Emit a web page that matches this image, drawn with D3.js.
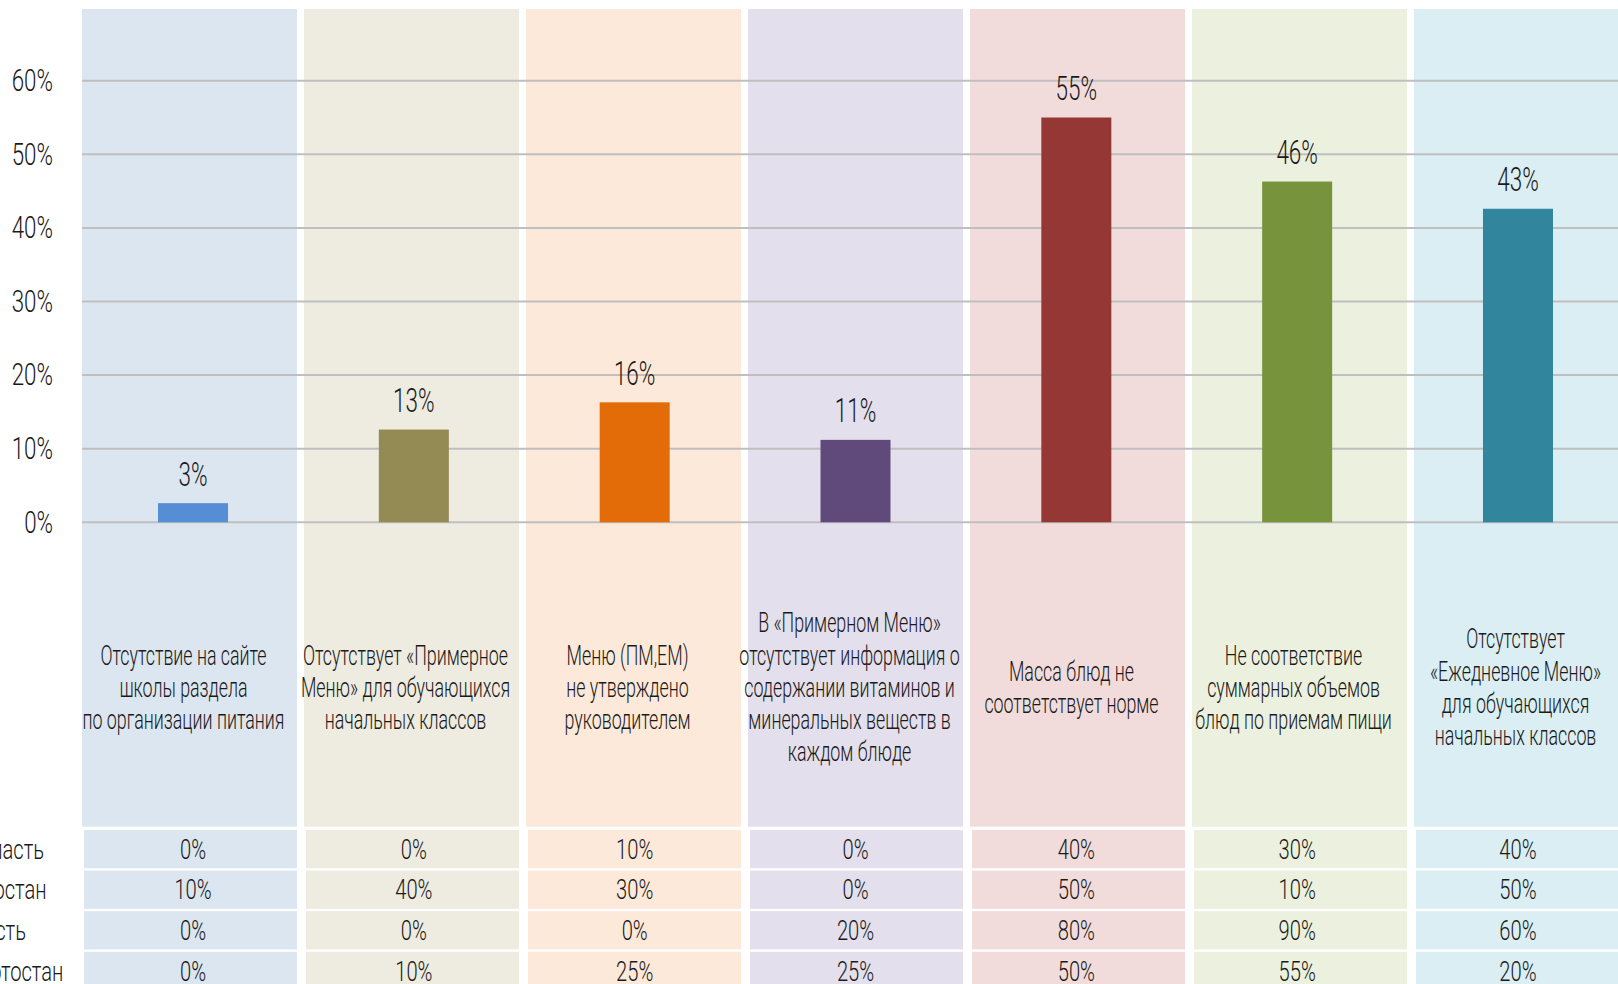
<!DOCTYPE html>
<html><head><meta charset="utf-8">
<script src="https://cdn.jsdelivr.net/npm/d3@7"></script>
<style>html,body{margin:0;padding:0;background:#fff;overflow:hidden}svg{display:block}
text{font-family:Roboto,"Liberation Sans",sans-serif;font-weight:300;fill:#1a1a1a}</style>
</head><body>
<svg id="c" width="1618" height="984"></svg>
<script>
const categories = [
  "Отсутствие на сайте|школы раздела|по организации питания",
  "Отсутствует «Примерное|Меню» для обучающихся|начальных классов",
  "Меню (ПМ,ЕМ)|не утверждено|руководителем",
  "В «Примерном Меню»|отсутствует информация о|содержании витаминов и|минеральных веществ в|каждом блюде",
  "Масса блюд не|соответствует норме",
  "Не соответствие|суммарных объемов|блюд по приемам пищи",
  "Отсутствует|«Ежедневное Меню»|для обучающихся|начальных классов"
];
const values = [2.6, 12.6, 16.3, 11.2, 55.0, 46.3, 42.6];
const barColors = ["#558ed5", "#948a54", "#e36c09", "#604a7b", "#953735", "#77933c", "#31859c"];
const panelColors = ["#dce6f1", "#eeebe0", "#fde9d9", "#e4dfec", "#f2dcdb", "#ebf1de", "#daeef3"];
const yTicks = [0, 10, 20, 30, 40, 50, 60];
const rowLabels = ["Калининградская область", "Республика Башкортостан", "Нижегородская область", "В Республике Башкортостан"];
const rowValues = [
  [0, 0, 10, 0, 40, 30, 40],
  [10, 40, 30, 0, 50, 10, 50],
  [0, 0, 0, 20, 80, 90, 60],
  [0, 10, 25, 25, 50, 55, 20]
];

const svg = d3.select("#c");
const fmt = v => d3.format(".0%")(v / 100);

const y = d3.scaleLinear().domain([0, 70]).range([522.3, 7.1]);
const xPanel = d3.scaleBand().domain(d3.range(7)).range([82, 1629]).paddingInner(0.0315).paddingOuter(0);
const xBar = d3.scaleBand().domain(d3.range(7)).range([82.6, 1628.4]).paddingInner(0.683).paddingOuter(0.3415);
const rowY = d3.scaleBand().domain(d3.range(4)).range([830, 990]).paddingInner(0.058).paddingOuter(0);

function sText(g, x, yy, s) {
  return g.append("text").attr("transform", `translate(${x},${yy}) scale(${s},1)`);
}

// panels
svg.append("g").selectAll("rect").data(d3.range(7)).join("rect")
  .attr("x", i => xPanel(i)).attr("width", xPanel.bandwidth())
  .attr("y", 9).attr("height", 826.7 - 9)
  .attr("fill", i => panelColors[i]);

// gridlines
svg.append("g").selectAll("line").data(yTicks).join("line")
  .attr("x1", 82).attr("x2", 1618)
  .attr("y1", d => y(d)).attr("y2", d => y(d))
  .attr("stroke", "#bfbfbf").attr("stroke-width", 2);

// y tick labels
const yl = svg.append("g");
yTicks.forEach(t => {
  sText(yl, 53, y(t), 0.72).attr("text-anchor", "end").attr("dominant-baseline", "central")
    .style("font-size", "31px").text(t + "%");
});

// bars
svg.append("g").selectAll("rect").data(values).join("rect")
  .attr("x", (d, i) => xBar(i)).attr("width", xBar.bandwidth())
  .attr("y", d => y(d)).attr("height", d => y(0) - y(d))
  .attr("fill", (d, i) => barColors[i]);

// value labels
const vl = svg.append("g");
values.forEach((v, i) => {
  sText(vl, xBar(i) + xBar.bandwidth() / 2, y(v) - 17.5, 0.66).attr("text-anchor", "middle")
    .style("font-size", "34px").text(fmt(v));
});

// category labels
const cl = svg.append("g");
categories.forEach((c, i) => {
  const lines = c.split("|");
  const lh = 32.3;
  const y0 = 688 - (lines.length - 1) * lh / 2;
  const t = sText(cl, xPanel(i) + xPanel.bandwidth() / 2 - 6, y0, 0.66)
    .attr("text-anchor", "middle").style("font-size", "27px");
  lines.forEach((ln, k) => {
    t.append("tspan").attr("x", 0).attr("y", k * lh).attr("dominant-baseline", "central").text(ln);
  });
});

// table
const tg = svg.append("g");
rowValues.forEach((row, r) => {
  row.forEach((v, i) => {
    tg.append("rect").attr("x", xPanel(i) + 2).attr("width", xPanel.bandwidth() - 2)
      .attr("y", rowY(r)).attr("height", rowY.bandwidth()).attr("fill", panelColors[i]);
    sText(tg, xBar(i) + xBar.bandwidth() / 2, rowY(r) + rowY.bandwidth() / 2, 0.72)
      .attr("text-anchor", "middle").attr("dominant-baseline", "central")
      .style("font-size", "28px").text(v + "%");
  });
  sText(tg, -201, rowY(r) + rowY.bandwidth() / 2, 0.72)
    .attr("text-anchor", "start").attr("dominant-baseline", "central")
    .style("font-size", "28px").text(rowLabels[r]);
});
</script>
</body></html>
